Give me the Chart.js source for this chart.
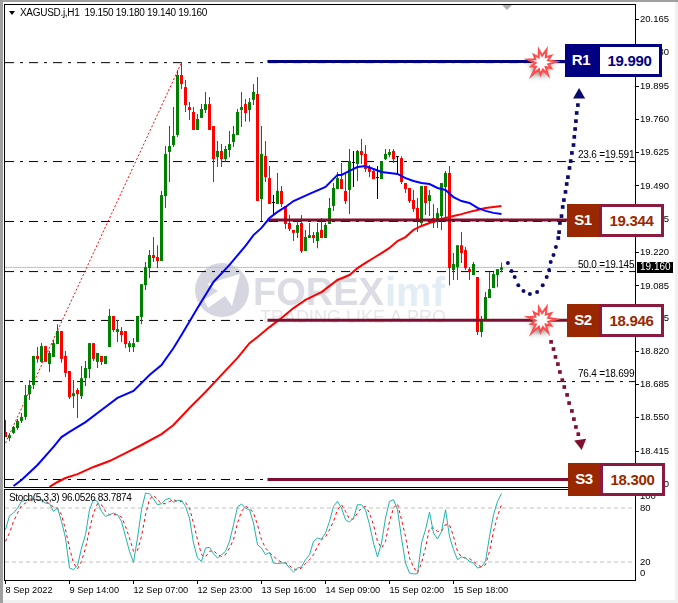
<!DOCTYPE html>
<html>
<head>
<meta charset="utf-8">
<title>XAGUSD H1</title>
<script src="https://cdn.jsdelivr.net/npm/chart.js@4"></script>
<style>
    html, body { margin: 0; padding: 0; background: #fff; overflow: hidden; }
    body { width: 678px; height: 603px; position: relative; font-family: "Liberation Sans", sans-serif; }
    canvas { position: absolute; left: 0; }
    #mainChart { top: 0; }
    #stochChart { top: 488px; }
    .edge { position: absolute; }
    #edgeLeft { left: 0; top: 0; width: 3px; height: 603px; background: #a0a0a0; }
    #edgeTop { left: 0; top: 0; width: 678px; height: 2px; background: #a0a0a0; }
    #edgeRight { right: 0; top: 2px; width: 3px; height: 601px; background: #f0f0f0; }
    #edgeBottom { left: 3px; bottom: 0; width: 675px; height: 3px; background: #f0f0f0; }
    .level { position: absolute; display: flex; height: 33px; box-sizing: border-box; font-weight: bold; font-size: 15px; letter-spacing: -0.3px; }
    .level .tag { width: 32px; color: #fff; text-align: center; line-height: 31px; }
    .level .val { flex: 1; background: #fff; text-align: center; line-height: 27px; border: 3px solid; }
    .res .tag { background: #000080; }
    .res .val { color: #000080; border-color: #000080; }
    .sup .tag { background: #992800; }
    .sup .val { color: #992800; border-color: #8b1a3f; }
    #boxR1 { left: 565px; top: 44px; width: 97px; }
    #boxS1 { left: 567px; top: 204px; width: 97px; }
    #boxS2 { left: 567px; top: 304px; width: 97px; }
    #boxS3 { left: 568px; top: 463px; width: 97px; }
</style>
</head>
<body>
<canvas id="mainChart" width="678" height="489"></canvas>
<canvas id="stochChart" width="678" height="115"></canvas>
<div class="edge" id="edgeLeft"></div>
<div class="edge" id="edgeTop"></div>
<div class="edge" id="edgeRight"></div>
<div class="edge" id="edgeBottom"></div>
<div class="level res" id="boxR1"><span class="tag">R1</span><span class="val">19.990</span></div>
<div class="level sup" id="boxS1"><span class="tag">S1</span><span class="val">19.344</span></div>
<div class="level sup" id="boxS2"><span class="tag">S2</span><span class="val">18.946</span></div>
<div class="level sup" id="boxS3"><span class="tag">S3</span><span class="val">18.300</span></div>
<script>
const candleOpen = [
    18.493,18.468,18.489,18.509,18.537,18.554,18.646,18.683,18.801,18.777,
    18.841,18.768,18.797,18.849,18.902,18.801,18.740,18.638,18.663,18.638,
    18.711,18.748,18.853,18.777,18.801,18.768,18.837,18.963,18.898,18.902,
    18.902,18.837,18.837,18.858,18.959,19.088,19.157,19.210,19.202,19.186,
    19.449,19.628,19.656,19.697,19.940,19.891,19.810,19.790,19.717,19.766,
    19.798,19.822,19.733,19.607,19.632,19.599,19.636,19.668,19.697,19.798,
    19.822,19.798,19.839,19.863,19.437,19.612,19.522,19.421,19.417,19.470,
    19.409,19.340,19.312,19.300,19.340,19.226,19.279,19.291,19.267,19.312,
    19.279,19.336,19.409,19.478,19.518,19.470,19.474,19.583,19.579,19.632,
    19.620,19.563,19.551,19.522,19.518,19.599,19.616,19.632,19.607,19.603,
    19.502,19.482,19.433,19.401,19.340,19.490,19.429,19.360,19.344,19.368,
    19.486,19.543,19.149,19.161,19.250,19.230,19.153,19.129,19.121,18.898,
    18.943,19.036,19.076,19.129,19.150
];
const candleHigh = [
    18.541,18.489,18.517,18.545,18.570,18.683,18.703,18.801,18.837,18.853,
    18.841,18.821,18.866,18.930,18.902,18.821,18.740,18.703,18.671,18.760,
    18.781,18.853,18.853,18.813,18.801,18.801,18.991,18.963,18.947,18.918,
    18.902,18.862,18.874,18.963,19.092,19.182,19.230,19.283,19.250,19.470,
    19.652,19.733,19.810,19.960,19.993,19.920,19.830,19.810,19.782,19.822,
    19.871,19.851,19.733,19.672,19.660,19.652,19.713,19.733,19.802,19.871,
    19.843,19.847,19.903,19.932,19.733,19.672,19.571,19.453,19.543,19.490,
    19.409,19.372,19.312,19.348,19.372,19.312,19.340,19.303,19.340,19.360,
    19.340,19.441,19.502,19.547,19.583,19.543,19.640,19.632,19.636,19.680,
    19.656,19.575,19.559,19.571,19.591,19.640,19.640,19.640,19.611,19.611,
    19.502,19.482,19.474,19.441,19.490,19.490,19.474,19.417,19.401,19.502,
    19.551,19.571,19.218,19.250,19.303,19.243,19.161,19.182,19.121,18.963,
    19.060,19.141,19.141,19.153,19.180
];
const candleLow = [
    18.472,18.456,18.485,18.501,18.529,18.541,18.622,18.667,18.773,18.773,
    18.777,18.736,18.797,18.849,18.773,18.716,18.626,18.590,18.549,18.626,
    18.679,18.711,18.781,18.752,18.764,18.768,18.837,18.898,18.858,18.858,
    18.833,18.817,18.817,18.858,18.930,19.068,19.117,19.182,19.157,19.186,
    19.401,19.506,19.648,19.689,19.883,19.790,19.758,19.717,19.717,19.766,
    19.786,19.717,19.506,19.567,19.567,19.587,19.607,19.648,19.697,19.729,
    19.750,19.750,19.818,19.429,19.348,19.506,19.417,19.376,19.417,19.405,
    19.316,19.308,19.267,19.279,19.218,19.226,19.279,19.259,19.238,19.279,
    19.279,19.336,19.389,19.478,19.478,19.417,19.376,19.486,19.510,19.579,
    19.547,19.526,19.518,19.437,19.518,19.595,19.607,19.583,19.539,19.498,
    19.462,19.421,19.385,19.303,19.324,19.372,19.368,19.320,19.320,19.312,
    19.344,19.088,19.109,19.109,19.178,19.149,19.109,19.129,18.886,18.878,
    18.943,19.036,19.076,19.080,19.140
];
const candleClose = [
    18.472,18.480,18.513,18.537,18.554,18.642,18.683,18.801,18.789,18.841,
    18.777,18.813,18.853,18.902,18.789,18.732,18.634,18.650,18.646,18.711,
    18.752,18.853,18.789,18.813,18.777,18.801,18.963,18.906,18.910,18.886,
    18.849,18.853,18.853,18.963,19.092,19.161,19.210,19.198,19.186,19.453,
    19.620,19.652,19.693,19.940,19.903,19.818,19.798,19.717,19.762,19.802,
    19.822,19.717,19.599,19.632,19.599,19.640,19.660,19.701,19.790,19.810,
    19.786,19.830,19.871,19.429,19.620,19.526,19.417,19.421,19.470,19.417,
    19.336,19.316,19.300,19.332,19.226,19.283,19.291,19.279,19.303,19.279,
    19.332,19.401,19.482,19.522,19.478,19.429,19.591,19.583,19.632,19.616,
    19.559,19.547,19.518,19.522,19.591,19.620,19.628,19.599,19.607,19.506,
    19.478,19.429,19.397,19.348,19.490,19.421,19.453,19.340,19.380,19.502,
    19.543,19.157,19.174,19.250,19.218,19.157,19.141,19.174,18.898,18.943,
    19.040,19.072,19.133,19.153,19.160
];

const blueMaIdx = [2,4,8,12,14,16,20,24,28,32,36,39,42,44,48,52,56,60,62,64,66,68,70,72,76,80,83,84,86,88,90,92,94,96,98,100,102,104,106,108,110,112,114,116,118,120,122,124];
const blueMaVal = [18.274,18.298,18.359,18.432,18.472,18.493,18.533,18.582,18.631,18.659,18.724,18.764,18.833,18.886,18.995,19.101,19.170,19.247,19.291,19.320,19.360,19.385,19.405,19.429,19.458,19.486,19.535,19.535,19.551,19.567,19.571,19.559,19.547,19.543,19.539,19.522,19.510,19.502,19.498,19.482,19.474,19.445,19.429,19.421,19.401,19.389,19.381,19.376];
const redMaIdx = [11,13,15,18,22,26,30,34,39,42,46,50,54,58,61,63,66,69,72,75,79,83,86,88,90,92,94,96,98,100,102,104,106,108,110,112,114,116,118,120,122,124];
const redMaVal = [18.270,18.290,18.306,18.322,18.351,18.375,18.407,18.440,18.484,18.521,18.590,18.655,18.724,18.793,18.853,18.878,18.918,18.955,18.995,19.028,19.060,19.109,19.129,19.157,19.178,19.198,19.218,19.239,19.267,19.283,19.312,19.328,19.340,19.352,19.360,19.368,19.376,19.385,19.393,19.401,19.405,19.409];

const fibLevels = [19.990,19.589,19.346,19.143,18.945,18.697,18.300];
const fibLabels = ['23.6 =19.591','50.0 =19.145','76.4 =18.699'];
const fibLabelPrices = [19.615,19.170,18.725];
const trendIdx = [0,44];
const trendVal = [18.448,19.990];
const lastPrice = 19.160;

const r1Line = 19.995;
const supportLines = [19.352,18.946,18.300];
const levelLineIdx = [65.5,141];

const upDotIdx = [125.6,126.5,127.3,128.2,129.5,131.1,132.9,134.3,135.3,135.9,136.3,137,137.6,138.2,138.4,138.6,139,139.3,139.6,140,140.3,140.6,141,141.3,141.6,142,142.2,142.4,142.6,142.8,143.1];
const upDotVal = [19.178,19.145,19.121,19.088,19.064,19.052,19.060,19.088,19.121,19.149,19.182,19.210,19.243,19.279,19.303,19.340,19.368,19.405,19.433,19.466,19.498,19.526,19.563,19.591,19.624,19.656,19.689,19.721,19.753,19.786,19.818];
const downDotIdx = [136.4,137,137.5,138.1,138.6,139.2,139.7,140.4,140.9,141.6,142.1,142.6,143.2];
const downDotVal = [18.858,18.829,18.797,18.768,18.736,18.703,18.675,18.643,18.610,18.578,18.545,18.513,18.484];
const upHead = [143.4,19.859];
const downHead = [143.8,18.448];
const burstIdx = [134,134];
const burstVal = [19.990,18.946];

const priceTicks = [20.165,20.030,19.895,19.760,19.625,19.490,19.355,19.220,19.085,18.955,18.820,18.685,18.550,18.415,18.280];
const timeTickIdx = [0,16,32,48,64,80,96,112];
const timeTickLabels = ['8 Sep 2022','9 Sep 14:00','12 Sep 07:00','12 Sep 23:00','13 Sep 16:00','14 Sep 09:00','15 Sep 02:00','15 Sep 18:00'];
const stochTickPos = [93,80,20,7];
const stochTickLabels = ['100','80','20','0'];
const stochLevels = [80,20];

const stochK = [
    55.9,71.4,74.4,79.9,87.3,88.5,89.9,89.9,89.2,88.5,85.5,84.8,76.2,79.9,65.1,46.6,13.3,11.5,15.9,35.5,
    50.3,78.1,89.2,87.3,76.2,70.7,72.5,74.4,72.5,65.1,48.5,31.8,19.6,46.6,78.1,96.6,95.9,89.9,83.6,84.8,
    89.2,91.0,86.2,88.5,88.5,81.8,68.8,41.1,24.4,20.7,35.5,36.3,29.3,24.4,28.1,31.8,42.9,61.4,81.1,84.4,
    79.9,78.1,63.3,39.2,35.5,28.1,30.7,18.9,18.2,18.9,18.9,13.3,8.9,13.3,14.5,22.6,28.1,42.9,46.6,45.5,
    52.2,65.1,81.8,87.3,79.9,67.0,64.4,68.8,83.6,83.6,78.1,61.4,41.1,25.6,41.1,68.8,87.3,89.2,78.1,46.6,
    18.9,7.8,6.7,7.1,41.1,55.9,75.5,52.2,45.5,54.0,78.1,48.5,33.7,22.6,25.6,24.4,20.7,18.9,13.3,14.5,
    20.7,48.5,72.5,87.3,96.05
];
const stochD = [
    42.9,52.2,65.1,74.4,82.5,85.5,88.5,89.2,89.2,89.2,87.3,84.8,81.1,79.9,72.5,55.9,35.5,18.9,12.2,20.7,
    35.5,55.9,74.4,84.8,83.6,76.2,72.5,72.5,72.5,70.0,59.6,46.6,31.8,33.0,48.5,72.5,89.9,94.0,89.2,84.8,
    84.8,87.3,89.2,87.3,87.3,86.2,79.9,63.3,44.8,28.1,25.6,31.8,33.0,28.1,26.3,28.1,35.5,44.8,63.3,76.2,
    81.8,79.9,74.4,61.4,44.8,35.5,30.7,26.3,22.6,19.6,18.9,15.9,12.2,11.5,13.3,18.2,22.6,28.1,37.4,44.8,
    47.8,55.9,65.1,78.1,83.6,76.2,67.7,67.7,74.4,79.9,81.8,74.4,61.4,42.9,35.5,42.9,65.1,79.9,84.8,67.0,
    48.5,24.4,14.5,7.8,18.9,35.5,57.7,57.7,54.0,54.0,61.4,61.4,48.5,31.8,25.6,24.4,23.7,20.7,17.0,14.5,
    17.0,31.8,54.0,70.7,83.79
];

const UP = '#008000';
const DOWN = '#ff0000';
const DOJI = '#000000';
const NAVY = '#000080';
const MAROON = '#800f2f';
const LABEL_FONT = '"Liberation Sans", sans-serif';

function candleColor(i) {
    if (candleClose[i] > candleOpen[i]) return UP;
    if (candleClose[i] < candleOpen[i]) return DOWN;
    return DOJI;
}

function pairs(xs, ys) {
    return xs.map((x, i) => ({ x: x, y: ys[i] }));
}

function flatLine(value, from, to) {
    return [{ x: from, y: value }, { x: to, y: value }];
}

const X_MIN = -0.125;
const X_MAX = 157.375;

function drawBurst(ctx, cx, cy) {
    const spikes = [14, 7, 12, 7, 15, 7, 11, 6, 14, 7, 12, 7, 16, 7, 11, 6, 14, 7, 11, 6, 13, 7];
    ctx.save();
    ctx.shadowColor = 'rgba(90,90,90,0.7)';
    ctx.shadowBlur = 4;
    ctx.shadowOffsetX = -1;
    ctx.shadowOffsetY = 4;
    ctx.beginPath();
    spikes.forEach((r, i) => {
        const a = i / spikes.length * Math.PI * 2 - 1.2;
        const px = cx + Math.cos(a) * r;
        const py = cy + Math.sin(a) * r;
        if (i === 0) ctx.moveTo(px, py); else ctx.lineTo(px, py);
    });
    ctx.closePath();
    ctx.fillStyle = '#fff';
    ctx.fill();
    ctx.shadowColor = 'transparent';
    ctx.strokeStyle = '#ff4d4d';
    ctx.lineWidth = 2;
    ctx.stroke();
    ctx.restore();
}

const watermarkPlugin = {
    id: 'watermark',
    beforeDatasetsDraw(chart) {
        const ctx = chart.ctx;
        ctx.save();
        ctx.fillStyle = '#d6d6e0';
        ctx.beginPath();
        ctx.arc(222, 290, 27, 0, Math.PI * 2);
        ctx.fill();
        ctx.fillStyle = '#fff';
        ctx.beginPath();
        ctx.moveTo(207, 284);
        ctx.lineTo(240, 274);
        ctx.lineTo(232, 306);
        ctx.lineTo(225, 296);
        ctx.lineTo(208, 308);
        ctx.lineTo(204, 300);
        ctx.lineTo(218, 291);
        ctx.closePath();
        ctx.fill();
        ctx.textBaseline = 'middle';
        ctx.font = 'bold 38px ' + LABEL_FONT;
        ctx.fillStyle = '#dcdce4';
        ctx.fillText('FOREX', 253, 295);
        ctx.fillStyle = '#e2edf5';
        ctx.font = 'bold 40px ' + LABEL_FONT;
        ctx.fillText('imf', 385, 295);
        ctx.font = '18px ' + LABEL_FONT;
        ctx.fillStyle = '#e6e6ea';
        ctx.fillText('TRADING LIKE A PRO', 260, 318);
        ctx.restore();
    }
};

const mainLabelsPlugin = {
    id: 'mainLabels',
    afterDraw(chart) {
        const ctx = chart.ctx;
        const x = chart.scales.x;
        const y = chart.scales.y;
        const area = chart.chartArea;
        ctx.save();
        ctx.strokeStyle = '#000';
        ctx.lineWidth = 1;
        ctx.strokeRect(area.left - 0.5, area.top - 0.5, area.right - area.left + 1, area.bottom - area.top + 1);

        ctx.fillStyle = '#b0b0b0';
        ctx.beginPath();
        ctx.moveTo(502, 5);
        ctx.lineTo(512, 5);
        ctx.lineTo(507, 10);
        ctx.closePath();
        ctx.fill();

        ctx.fillStyle = '#000';
        ctx.beginPath();
        ctx.moveTo(9, 11);
        ctx.lineTo(15, 11);
        ctx.lineTo(12, 15);
        ctx.closePath();
        ctx.fill();

        ctx.textBaseline = 'middle';
        ctx.font = '10px ' + LABEL_FONT;
        ctx.fillStyle = '#000';
        ctx.letterSpacing = '-0.3px';
        ctx.fillText('XAGUSD.j,H1  19.150 19.180 19.140 19.160', 20, 13);
        ctx.letterSpacing = '-0.2px';

        fibLabels.forEach((text, i) => {
            ctx.fillText(text, 578, y.getPixelForValue(fibLabelPrices[i]));
        });
        ctx.letterSpacing = '0px';

        burstIdx.forEach((b, i) => {
            drawBurst(ctx, x.getPixelForValue(b), y.getPixelForValue(burstVal[i]));
        });

        ctx.fillStyle = '#000';
        ctx.fillRect(637, 262, 36, 11);
        ctx.fillStyle = '#fff';
        ctx.font = '10px ' + LABEL_FONT;
        ctx.fillText(lastPrice.toFixed(3), 640, 267.5);
        ctx.restore();
    }
};

const stochLabelsPlugin = {
    id: 'stochLabels',
    afterDraw(chart) {
        const ctx = chart.ctx;
        const area = chart.chartArea;
        ctx.save();
        ctx.strokeStyle = '#000';
        ctx.lineWidth = 1;
        ctx.strokeRect(area.left - 0.5, area.top - 0.5, area.right - area.left + 1, area.bottom - area.top + 1);
        ctx.fillStyle = '#000';
        ctx.font = '10px ' + LABEL_FONT;
        ctx.letterSpacing = '-0.35px';
        ctx.textBaseline = 'middle';
        ctx.fillText('Stoch(5,3,3) 96.0526 83.7874', 9, 10);
        ctx.restore();
    }
};

function noEdgePadding(scale) {
    scale.paddingTop = 0;
    scale.paddingBottom = 0;
    scale.paddingLeft = 0;
    scale.paddingRight = 0;
}

const mainDatasets = [
    {
        type: 'scatter',
        data: pairs(upDotIdx, upDotVal),
        pointStyle: c => (c.dataIndex < 13 ? 'circle' : 'rect'),
        pointRadius: c => (c.dataIndex < 13 ? 2 : 2.6),
        backgroundColor: '#0a0a6e',
        borderWidth: 0,
        showLine: false
    },
    { type: 'scatter', data: [{ x: upHead[0], y: upHead[1] }], pointStyle: 'triangle', pointRadius: 7, backgroundColor: '#0a0a6e', borderWidth: 0, showLine: false },
    { type: 'scatter', data: pairs(downDotIdx, downDotVal), pointStyle: 'rect', pointRadius: 2.6, backgroundColor: MAROON, borderWidth: 0, showLine: false },
    { type: 'scatter', data: [{ x: downHead[0], y: downHead[1] }], pointStyle: 'triangle', rotation: 172, pointRadius: 7, backgroundColor: MAROON, borderWidth: 0, showLine: false },
    { type: 'line', data: pairs(blueMaIdx, blueMaVal), borderColor: '#0000ff', borderWidth: 2, pointRadius: 0, tension: 0 },
    { type: 'line', data: flatLine(r1Line, levelLineIdx[0], levelLineIdx[1]), borderColor: NAVY, borderWidth: 3, pointRadius: 0 }
];
supportLines.forEach(v => {
    mainDatasets.push({ type: 'line', data: flatLine(v, levelLineIdx[0], levelLineIdx[1]), borderColor: MAROON, borderWidth: 3, pointRadius: 0 });
});
mainDatasets.push(
    { type: 'line', data: pairs(redMaIdx, redMaVal), borderColor: '#ff0000', borderWidth: 2, pointRadius: 0, tension: 0 },
    {
        type: 'bar',
        data: candleOpen.map((o, i) => ({ x: i, y: [o, candleClose[i] === o ? o + 0.004 : candleClose[i]] })),
        backgroundColor: candleOpen.map((o, i) => candleColor(i)),
        barThickness: 3,
        grouped: false,
        borderWidth: 0,
        inflateAmount: 0
    },
    {
        type: 'bar',
        data: candleLow.map((l, i) => ({ x: i, y: [l, candleHigh[i]] })),
        backgroundColor: candleOpen.map((o, i) => candleColor(i)),
        barThickness: 1,
        grouped: false,
        borderWidth: 0,
        inflateAmount: 0
    },
    { type: 'line', data: pairs(trendIdx, trendVal), borderColor: '#ff0000', borderWidth: 1, borderDash: [2, 2], pointRadius: 0 }
);
fibLevels.forEach(v => {
    mainDatasets.push({ type: 'line', data: flatLine(v, X_MIN, X_MAX), borderColor: '#000', borderWidth: 1, borderDash: [9, 6, 3, 6], pointRadius: 0 });
});
mainDatasets.push({ type: 'line', data: flatLine(lastPrice, X_MIN, X_MAX), borderColor: '#c0c0c0', borderWidth: 1, pointRadius: 0 });

new Chart(document.getElementById('mainChart').getContext('2d'), {
    data: { datasets: mainDatasets },
    plugins: [watermarkPlugin, mainLabelsPlugin],
    options: {
        responsive: false,
        animation: false,
        layout: { autoPadding: false, padding: { left: 5, top: 5, bottom: 2, right: 0 } },
        plugins: { legend: { display: false }, tooltip: { enabled: false } },
        scales: {
            x: { type: 'linear', display: false, offset: false, grid: { offset: false }, min: X_MIN, max: X_MAX, afterFit: noEdgePadding },
            y: {
                type: 'linear',
                position: 'right',
                min: 18.26971,
                max: 20.22373,
                afterBuildTicks(scale) { scale.ticks = priceTicks.map(v => ({ value: v })); },
                afterFit(scale) { scale.width = 43; noEdgePadding(scale); },
                border: { color: '#000' },
                grid: { drawOnChartArea: false, tickLength: 4, color: '#000' },
                ticks: {
                    color: '#000',
                    padding: 1,
                    autoSkip: false,
                    font: { family: LABEL_FONT, size: 9.5 },
                    callback: v => v.toFixed(3)
                }
            }
        }
    }
});

new Chart(document.getElementById('stochChart').getContext('2d'), {
    data: {
        datasets: [
            { type: 'line', data: pairs(stochK.map((v, i) => i), stochK), borderColor: '#20b2aa', borderWidth: 1, pointRadius: 0, tension: 0 },
            { type: 'line', data: pairs(stochD.map((v, i) => i), stochD), borderColor: '#ff0000', borderWidth: 1, borderDash: [3, 3], pointRadius: 0, tension: 0 },
            { type: 'line', data: flatLine(stochLevels[0], X_MIN, X_MAX), borderColor: '#c0c0c0', borderWidth: 1, borderDash: [4, 3], pointRadius: 0 },
            { type: 'line', data: flatLine(stochLevels[1], X_MIN, X_MAX), borderColor: '#c0c0c0', borderWidth: 1, borderDash: [4, 3], pointRadius: 0 }
        ]
    },
    plugins: [stochLabelsPlugin],
    options: {
        responsive: false,
        animation: false,
        layout: { autoPadding: false, padding: { left: 5, top: 2, bottom: 0, right: 0 } },
        plugins: { legend: { display: false }, tooltip: { enabled: false } },
        scales: {
            x: {
                type: 'linear',
                offset: false,
                min: X_MIN,
                max: X_MAX,
                afterBuildTicks(scale) { scale.ticks = timeTickIdx.map(v => ({ value: v })); },
                afterFit(scale) { scale.height = 23; noEdgePadding(scale); },
                border: { color: '#000' },
                grid: { drawOnChartArea: false, tickLength: 4, color: '#000' },
                ticks: {
                    color: '#000',
                    padding: 1,
                    align: 'start',
                    autoSkip: false,
                    maxRotation: 0,
                    font: { family: LABEL_FONT, size: 9.2 },
                    callback: v => timeTickLabels[timeTickIdx.indexOf(v)]
                }
            },
            y: {
                type: 'linear',
                position: 'right',
                min: 0,
                max: 100,
                afterBuildTicks(scale) { scale.ticks = stochTickPos.map(v => ({ value: v })); },
                afterFit(scale) { scale.width = 43; noEdgePadding(scale); },
                border: { color: '#000' },
                grid: { drawOnChartArea: false, tickLength: 4, color: '#fff' },
                ticks: {
                    color: '#000',
                    padding: 1,
                    autoSkip: false,
                    font: { family: LABEL_FONT, size: 9.5 },
                    callback: v => stochTickLabels[stochTickPos.indexOf(v)]
                }
            }
        }
    }
});
</script>
</body>
</html>
